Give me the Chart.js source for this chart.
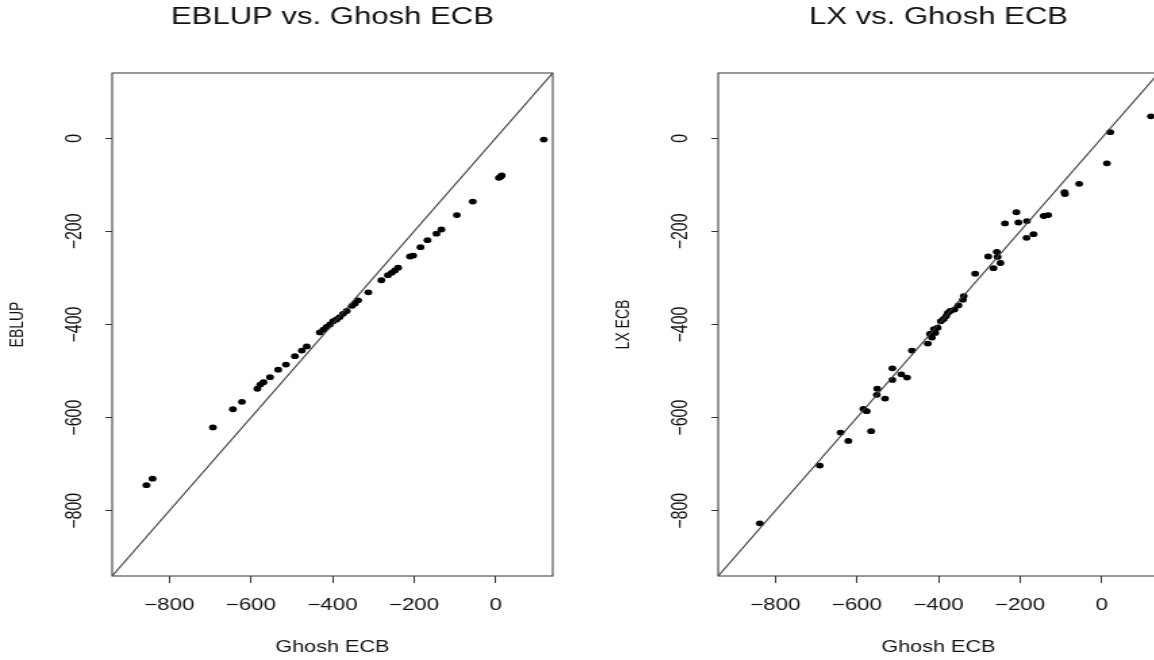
<!DOCTYPE html>
<html>
<head>
<meta charset="utf-8">
<title>EBLUP and LX vs. Ghosh ECB</title>
<script src="https://cdn.jsdelivr.net/npm/chart.js@4.4.1/dist/chart.umd.min.js"></script>
<style>
  html, body { margin: 0; padding: 0; background: #fff; overflow: hidden; }
  body { width: 1154px; height: 660px; position: relative; }
  canvas { position: absolute; top: 0; }
</style>
</head>
<body>
<canvas id="chartEblup" width="444" height="660" style="left:0px;width:600px;height:660px"></canvas>
<canvas id="chartLx" width="444" height="660" style="left:606px;width:600px;height:660px"></canvas>
<script>
// axis limits (xlim = ylim = c(-900, 100) plus R's 4% padding) and tick marks
const axisRange = [-940, 140]
const axisTicks = [-800, -600, -400, -200, 0]

// left panel: Ghosh ECB (x) vs EBLUP (y)
const ghoshA = [118, 15, 12, 8, -56, -95, -133, -145, -167, -184, -202, -210, -239, -247, -255, -264,
  -280, -312, -337, -345, -352, -365, -374, -382, -390, -398, -406, -414, -422, -431, -463, -475,
  -492, -514, -533, -553, -569, -577, -584, -622, -644, -693, -841, -856]
const eblup = [-3, -80, -83, -85, -136, -165, -196, -205, -219, -234, -252, -254, -278, -284, -289, -294,
  -305, -331, -348, -355, -360, -371, -377, -384, -389, -393, -400, -405, -411, -417, -447, -456,
  -468, -486, -497, -513, -524, -529, -538, -566, -582, -621, -731, -745]

// right panel: Ghosh ECB (x) vs LX ECB (y)
const ghoshB = [121, 21, 13, -55, -91, -90, -131, -142, -167, -184, -183, -204, -209, -237, -257, -278,
  -255, -248, -265, -310, -338, -340, -351, -361, -371, -377, -381, -387, -394, -402, -411, -408,
  -421, -416, -426, -465, -513, -491, -477, -513, -550, -551, -531, -584, -576, -565, -640, -621,
  -691, -838]
const lxEcb = [47, 13, -54, -98, -116, -120, -165, -167, -206, -214, -178, -181, -159, -183, -244, -254,
  -255, -268, -279, -291, -339, -347, -359, -368, -371, -375, -382, -388, -393, -407, -410, -418,
  -420, -428, -441, -456, -494, -507, -514, -519, -538, -551, -559, -581, -586, -629, -632, -650,
  -703, -827]

const FONT = "'Liberation Sans', Arial, Helvetica, sans-serif"
Chart.defaults.font.family = FONT
Chart.defaults.color = '#111'

function fmtTick(v) {
    return v < 0 ? '\u2212' + Math.abs(v) : String(v)
}

// R style box round the plot region
const boxPlugin = {
    id: 'plotBox',
    beforeDatasetsDraw(chart) {
        const { ctx, chartArea: a } = chart
        ctx.save()
        ctx.strokeStyle = '#333'
        ctx.lineWidth = 1
        ctx.strokeRect(a.left, a.top, a.right - a.left, a.bottom - a.top)
        ctx.restore()
    }
}

function setTicks(scale) {
    scale.ticks = axisTicks.map(v => ({ value: v }))
}

function createPanel(id, title, yTitle, xs, ys) {
    const ctx = document.getElementById(id).getContext('2d')
    return new Chart(ctx, {
        type: 'scatter',
        data: {
            datasets: [{
                label: 'y = x',
                data: axisRange.map(v => ({ x: v, y: v })),
                xAxisID: 'x',
                yAxisID: 'y',
                showLine: true,
                borderColor: '#3a3a3a',
                borderWidth: 1.1,
                pointRadius: 0
            }, {
                label: yTitle,
                data: xs.map((x, i) => ({ x: x, y: ys[i] })),
                xAxisID: 'x',
                yAxisID: 'y',
                backgroundColor: '#000',
                borderWidth: 0,
                pointRadius: 2.9,
                pointHoverRadius: 2.9
            }]
        },
        options: {
            responsive: false,
            animation: false,
            events: [],
            layout: { padding: { left: 0, right: 35, top: 0, bottom: 0 } },
            plugins: {
                legend: { display: false },
                tooltip: { enabled: false },
                title: { display: false }
            },
            scales: {
                x: {
                    type: 'linear',
                    position: 'bottom',
                    min: axisRange[0],
                    max: axisRange[1],
                    afterBuildTicks: setTicks,
                    afterFit: s => { s.height = 84 },
                    border: { display: false },
                    grid: { drawOnChartArea: false, drawTicks: true, tickLength: 7, color: '#333' },
                    ticks: {
                        autoSkip: false, minRotation: 0, maxRotation: 0, padding: 13,
                        font: { size: 16.5 }, callback: fmtTick
                    },
                    title: { display: true, text: 'Ghosh ECB', font: { size: 16 }, padding: { top: 0, bottom: 3 } }
                },
                y: {
                    type: 'linear',
                    position: 'left',
                    min: axisRange[0],
                    max: axisRange[1],
                    afterBuildTicks: setTicks,
                    afterFit: s => { s.width = 83 },
                    border: { display: false },
                    grid: { drawOnChartArea: false, drawTicks: true, tickLength: 5, color: '#333' },
                    ticks: {
                        autoSkip: false, minRotation: 90, maxRotation: 90, crossAlign: 'center', padding: 4,
                        font: { size: 16 }, callback: fmtTick
                    },
                    title: { display: true, text: yTitle, font: { size: 14 }, padding: { top: 5, bottom: 0 } }
                },
                // empty top axis, used only to centre the main title over the plot box
                x2: {
                    type: 'linear',
                    axis: 'x',
                    position: 'top',
                    afterFit: s => { s.height = 73 },
                    border: { display: false },
                    grid: { display: false },
                    ticks: { display: false },
                    title: { display: true, text: title, font: { size: 23 }, padding: { top: 4, bottom: 0 } }
                }
            }
        },
        plugins: [boxPlugin]
    })
}

createPanel('chartEblup', 'EBLUP vs. Ghosh ECB', 'EBLUP', ghoshA, eblup)
createPanel('chartLx', 'LX vs. Ghosh ECB', 'LX ECB', ghoshB, lxEcb)
</script>
</body>
</html>
